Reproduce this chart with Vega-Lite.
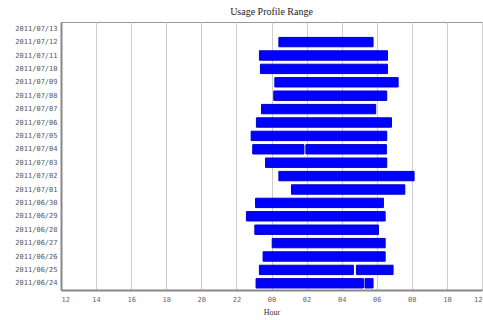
{
  "$schema": "https://vega.github.io/schema/vega-lite/v6.json",
  "width": 421,
  "height": 268,
  "autosize": {"type": "none"},
  "padding": {"left": 61, "top": 22, "right": 1, "bottom": 30},
  "background": "white",
  "title": {"text": "Usage Profile Range", "font": "Liberation Serif", "fontSize": 10, "fontWeight": "normal", "color": "#222", "offset": 5},
  "config": {"view": {"stroke": "#999", "strokeWidth": 1}},
  "data": {"values": [
    {"date": "2011/06/24", "start": 11.12, "end": 17.24},
    {"date": "2011/06/24", "start": 17.33, "end": 17.79},
    {"date": "2011/06/25", "start": 11.31, "end": 16.67},
    {"date": "2011/06/25", "start": 16.84, "end": 18.93},
    {"date": "2011/06/26", "start": 11.52, "end": 18.48},
    {"date": "2011/06/27", "start": 12.04, "end": 18.48},
    {"date": "2011/06/28", "start": 11.05, "end": 18.1},
    {"date": "2011/06/29", "start": 10.57, "end": 18.48},
    {"date": "2011/06/30", "start": 11.09, "end": 18.38},
    {"date": "2011/07/01", "start": 13.14, "end": 19.6},
    {"date": "2011/07/02", "start": 12.42, "end": 20.13},
    {"date": "2011/07/03", "start": 11.66, "end": 18.57},
    {"date": "2011/07/04", "start": 10.93, "end": 13.85},
    {"date": "2011/07/04", "start": 13.96, "end": 18.55},
    {"date": "2011/07/05", "start": 10.84, "end": 18.57},
    {"date": "2011/07/06", "start": 11.14, "end": 18.84},
    {"date": "2011/07/07", "start": 11.43, "end": 17.94},
    {"date": "2011/07/08", "start": 12.13, "end": 18.57},
    {"date": "2011/07/09", "start": 12.19, "end": 19.22},
    {"date": "2011/07/10", "start": 11.37, "end": 18.61},
    {"date": "2011/07/11", "start": 11.31, "end": 18.61},
    {"date": "2011/07/12", "start": 12.42, "end": 17.79},
    {"date": "2011/07/13", "start": null, "end": null}
  ]},
  "mark": {"type": "bar", "color": "#0000ff", "stroke": "#0000cc", "strokeWidth": 1},
  "encoding": {
    "y": {
      "field": "date", "type": "ordinal", "sort": "descending",
      "scale": {"paddingInner": 0.3, "paddingOuter": 0.15},
      "axis": {"title": null, "labelFont": "DejaVu Sans Mono", "labelFontSize": 7, "labelColor": "#555", "ticks": false, "labelPadding": 4, "domainColor": "#888", "domainWidth": 2, "grid": false}
    },
    "x": {
      "field": "start", "type": "quantitative",
      "scale": {"domain": [0, 24], "nice": false, "zero": false},
      "axis": {
        "title": "Hour", "titleFont": "Liberation Serif", "titleFontSize": 8, "titleFontWeight": "normal", "titleColor": "#333", "titlePadding": 6,
        "values": [0, 2, 4, 6, 8, 10, 12, 14, 16, 18, 20, 22, 24],
        "labelExpr": "((datum.value + 12) % 24) < 10 ? '0' + ((datum.value + 12) % 24) : '' + ((datum.value + 12) % 24)",
        "labelFont": "DejaVu Sans Mono", "labelFontSize": 7, "labelColor": "#666", "ticks": false, "labelPadding": 5,
        "grid": true, "gridColor": "#ccc", "gridWidth": 1, "domainColor": "#888", "domainWidth": 2
      }
    },
    "x2": {"field": "end"}
  }
}
